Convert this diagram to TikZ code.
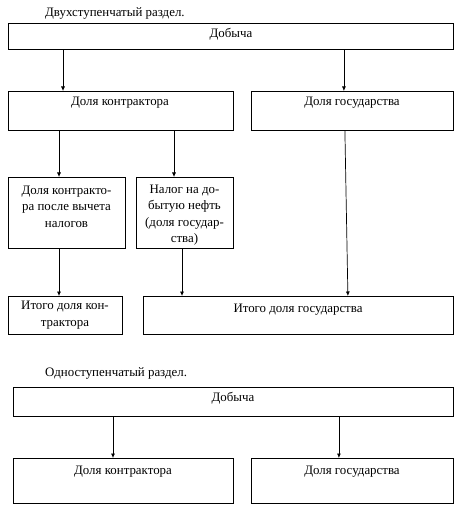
\documentclass[tikz,border=0pt]{standalone}
\usepackage{fontspec}
\setmainfont{Liberation Serif}
\usetikzlibrary{arrows.meta,calc}
\tikzset{
  box/.style={draw=black, line width=0.9pt, rectangle, inner sep=0pt, anchor=north west},
  txt/.style={inner sep=0pt, font=\fontsize{12.9}{16.5}\selectfont, align=center},
  ttl/.style={inner sep=0pt, font=\fontsize{12.9}{14}\selectfont, anchor=west},
  arr/.style={line width=0.7pt, -{Latex[length=4.5pt,width=4pt]}}
}
\begin{document}
\begin{tikzpicture}[x=1pt,y=-1pt]
\useasboundingbox (0,0) rectangle (459,510);
% ---- two-stage
\node[ttl] (t1) at (45,13) {Двухступенчатый раздел.};
\node[box, minimum width=445pt, minimum height=26pt] (dob1) at (8,23) {};
\node[txt] (dob1t) at (231,34) {Добыча};
\node[box, minimum width=225pt, minimum height=39pt] (dk1) at (8,91) {};
\node[txt] (dk1t) at (120,103) {Доля контрактора};
\node[box, minimum width=202pt, minimum height=39pt] (dg1) at (251,91) {};
\node[txt] (dg1t) at (352,103) {Доля государства};
\node[box, minimum width=117pt, minimum height=71pt] (dkn) at (8,177) {};
\node[txt] (dknt) at (66.5,206.5) {Доля контракто-\\ра после вычета\\налогов};
\node[box, minimum width=97pt, minimum height=71pt] (nal) at (136,177) {};
\node[txt] (nalt) at (184.5,215) {Налог на до-\\бытую нефть\\(доля государ-\\ства)};
\node[box, minimum width=114pt, minimum height=38pt] (ik) at (8,296) {};
\node[txt] (ikt) at (65,315) {Итого доля кон-\\трактора};
\node[box, minimum width=310pt, minimum height=38pt] (ig) at (143,296) {};
\node[txt] (igt) at (298,310) {Итого доля государства};
\draw[arr] ([xshift=55pt]dob1.south west) -- ([xshift=55pt]dk1.north west);
\draw[arr] ([xshift=-110pt]dob1.south east) -- ([xshift=-110pt]dg1.north east);
\draw[arr] ([xshift=51pt]dk1.south west) -- ([xshift=51pt]dkn.north west);
\draw[arr] ([xshift=166pt]dk1.south west) -- ([xshift=38pt]nal.north west);
\draw[arr] ([xshift=51pt]dkn.south west) -- ([xshift=51pt]ik.north west);
\draw[arr] ([xshift=46pt]nal.south west) -- ([xshift=39pt]ig.north west);
\draw[arr] ([xshift=-109pt]dg1.south east) -- ([xshift=-106pt]ig.north east);
% ---- one-stage
\node[ttl] (t2) at (45,373) {Одноступенчатый раздел.};
\node[box, minimum width=440pt, minimum height=29pt] (dob2) at (13,387) {};
\node[txt] (dob2t) at (233,398) {Добыча};
\node[box, minimum width=220pt, minimum height=45pt] (dk2) at (13,458) {};
\node[txt] (dk2t) at (123,472) {Доля контрактора};
\node[box, minimum width=202pt, minimum height=45pt] (dg2) at (251,458) {};
\node[txt] (dg2t) at (352,472) {Доля государства};
\draw[arr] ([xshift=100pt]dob2.south west) -- ([xshift=100pt]dk2.north west);
\draw[arr] ([xshift=-115pt]dob2.south east) -- ([xshift=-115pt]dg2.north east);
\end{tikzpicture}
\end{document}
